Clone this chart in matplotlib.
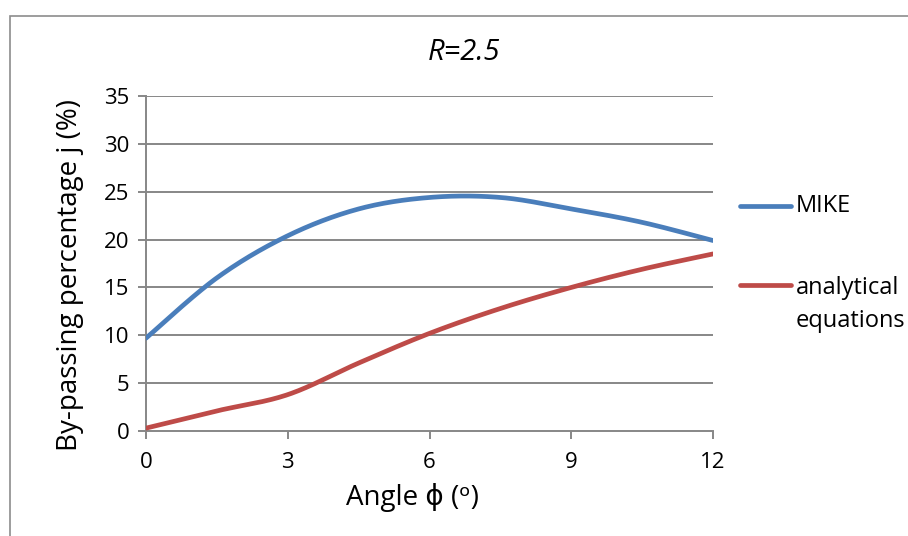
import matplotlib.pyplot as plt
import numpy as np
from matplotlib.patches import Rectangle

# angle (deg) and by-passing percentage for R=2.5
angle = [0, 1.5, 3, 4.5, 6, 7.5, 9, 10.5, 12]
mike = [9.7, 16.0, 20.4, 23.2, 24.4, 24.4, 23.2, 21.8, 19.9]
analytical = [0.3, 2.1, 3.8, 7.1, 10.2, 12.8, 15.0, 16.9, 18.5]

xticks = [0, 3, 6, 9, 12]
yticks = [0, 5, 10, 15, 20, 25, 30, 35]


def smooth(x, y, n=40):
    # bezier smoothing, control points from neighbouring points
    x = np.asarray(x, float)
    y = np.asarray(y, float)
    px = np.concatenate([[x[0]], x, [x[-1]]])
    py = np.concatenate([[y[0]], y, [y[-1]]])
    t = np.linspace(0, 1, n)
    xs, ys = [], []
    for i in range(1, len(px) - 2):
        p0 = np.array([px[i], py[i]])
        p3 = np.array([px[i + 1], py[i + 1]])
        p1 = p0 + (np.array([px[i + 1], py[i + 1]]) - np.array([px[i - 1], py[i - 1]])) / 6
        p2 = p3 - (np.array([px[i + 2], py[i + 2]]) - np.array([px[i], py[i]])) / 6
        b = ((1 - t) ** 3)[:, None] * p0 + (3 * (1 - t) ** 2 * t)[:, None] * p1 \
            + (3 * (1 - t) * t ** 2)[:, None] * p2 + (t ** 3)[:, None] * p3
        xs.append(b[:, 0])
        ys.append(b[:, 1])
    return np.concatenate(xs), np.concatenate(ys)


plt.rcParams['font.family'] = ['Open Sans', 'DejaVu Sans']

fig = plt.figure(figsize=(9.08, 5.36), dpi=100)
fig.patches.append(Rectangle((10 / 908, -0.1), 1.2, 1 - 16 / 536 + 0.1,
                             transform=fig.transFigure, fill=False,
                             edgecolor='#8c8c8c', linewidth=1.2))

ax = fig.add_axes([146 / 908, 1 - 431 / 536, (713 - 146) / 908, (431 - 96) / 536])

grid_c = '#878787'
for v in yticks[1:]:
    ax.axhline(v, color=grid_c, linewidth=1.4, zorder=1)

sx, sy = smooth(angle, mike)
ax.plot(sx, sy, color='#4A7EBB', linewidth=3.4, solid_capstyle='round', zorder=3)
sx, sy = smooth(angle, analytical)
ax.plot(sx, sy, color='#BE4B48', linewidth=3.4, solid_capstyle='round', zorder=3)

ax.set_xlim(0, 12)
ax.set_ylim(0, 35)
ax.set_xticks(xticks)
ax.set_yticks(yticks)
ax.tick_params(axis='both', colors=grid_c, labelcolor='black', labelsize=16,
               width=1.4, length=6, direction='out')
ax.tick_params(axis='x', pad=9)
ax.tick_params(axis='y', pad=6)
for s in ['top', 'right']:
    ax.spines[s].set_visible(False)
for s in ['left', 'bottom']:
    ax.spines[s].set_color(grid_c)
    ax.spines[s].set_linewidth(1.4)
ax.patch.set_alpha(0)

fig.text(70 / 908, 1 - 275 / 536, 'By-passing percentage j (%)', fontsize=20,
         rotation=90, ha='center', va='center')
fig.text(412 / 908, 1 - 497 / 536, 'Angle ϕ (ᵒ)', fontsize=20,
         ha='center', va='center')
fig.text(464 / 908, 1 - 52 / 536, 'R=2.5', fontsize=21, style='italic',
         ha='center', va='center')

# legend drawn by hand on the right
for ly, c in [(206, '#4A7EBB'), (285, '#BE4B48')]:
    fig.add_artist(plt.Line2D([740 / 908, 791 / 908], [1 - ly / 536] * 2,
                              color=c, linewidth=3.4, solid_capstyle='round'))
fig.text(796 / 908, 1 - 206 / 536, 'MIKE', fontsize=17, va='center')
fig.text(796 / 908, 1 - 288 / 536, 'analytical', fontsize=17, va='center')
fig.text(796 / 908, 1 - 321 / 536, 'equations', fontsize=17, va='center')

fig.savefig('out.png', dpi=100)
